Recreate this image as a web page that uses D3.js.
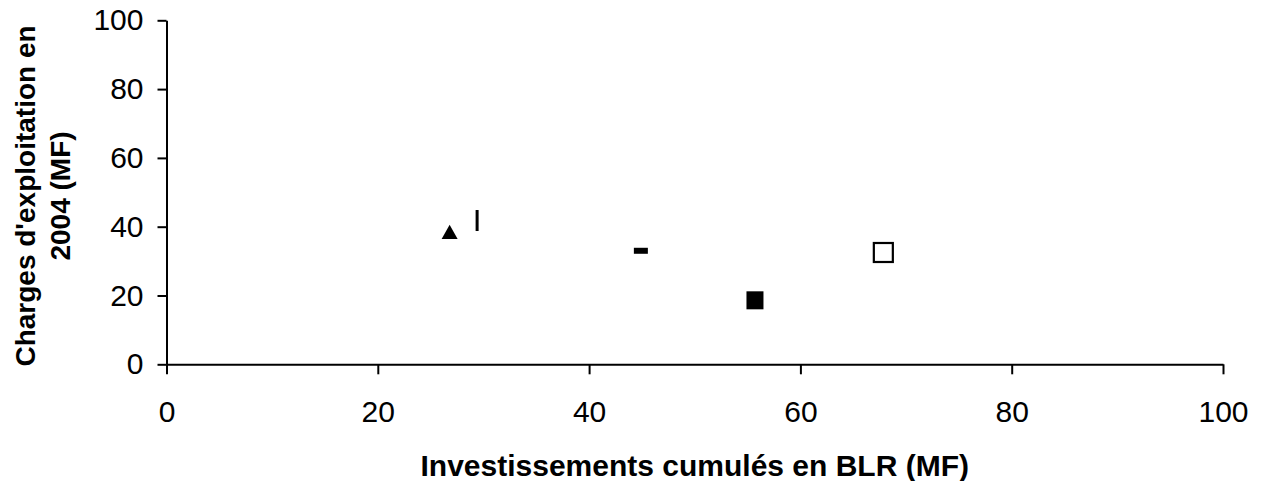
<!DOCTYPE html>
<html>
<head>
<meta charset="utf-8">
<script src="https://cdn.jsdelivr.net/npm/d3@7"></script>
<style>
  body { margin: 0; background: #fff; }
  svg { display: block; }
  .tick text { font-family: "Liberation Sans", Arial, sans-serif; font-size: 30px; fill: #000; }
  .title { font-family: "Liberation Sans", Arial, sans-serif; font-size: 28px; font-weight: bold; fill: #000; }
  .title.x { font-size: 30px; }
</style>
</head>
<body>
<svg id="chart" width="1265" height="481"></svg>
<script>
// one point per series
const seriesNames = ["triangle", "barre", "tiret", "carre plein", "carre vide"]
const xValues = [26.8, 29.4, 44.9, 55.7, 67.85]
const yValues = [38.5, 41.8, 33.0, 18.6, 32.5]
const xTicks = [0, 20, 40, 60, 80, 100]
const yTicks = [0, 20, 40, 60, 80, 100]

const xTitle = "Investissements cumulés en BLR (MF)"
const yTitle = ["Charges d'exploitation en", "2004 (MF)"]

const svg = d3.select("#chart")

const xScale = d3.scaleLinear().domain([0, 100]).range([166.5, 1223])
const yScale = d3.scaleLinear().domain([0, 100]).range([364.3, 20.3])

// axes
const xAxis = d3.axisBottom(xScale).tickValues(xTicks).tickSize(10).tickPadding(26).tickSizeOuter(0)
const yAxis = d3.axisLeft(yScale).tickValues(yTicks).tickSize(9).tickPadding(14).tickSizeOuter(0)

svg.append("g")
    .attr("transform", `translate(0, ${yScale(0)})`)
    .call(xAxis)
    .call(g => g.selectAll("line, path").attr("stroke", "#000").attr("stroke-width", 2))

svg.append("g")
    .attr("transform", `translate(${xScale(0)}, 0)`)
    .call(yAxis)
    .call(g => g.selectAll("line, path").attr("stroke", "#000").attr("stroke-width", 2))

svg.selectAll(".tick text").attr("fill", "#000")

// titles
svg.append("text")
    .attr("class", "title x")
    .attr("x", (xScale(0) + xScale(100)) / 2)
    .attr("y", 476)
    .attr("text-anchor", "middle")
    .text(xTitle)

svg.append("g")
    .attr("transform", "translate(0, 196) rotate(-90)")
    .selectAll("text")
    .data(yTitle)
    .join("text")
    .attr("class", "title")
    .attr("x", 0)
    .attr("y", (d, i) => 35 + i * 35)
    .attr("text-anchor", "middle")
    .text(d => d)

// markers: each series has its own Excel-like marker
const markers = {
    "triangle": g => g.append("path").attr("d", "M0,-7.2L8,7.2L-8,7.2Z").attr("fill", "#000"),
    "barre": g => g.append("rect").attr("x", -1.5).attr("y", -10.5).attr("width", 3).attr("height", 21).attr("fill", "#000"),
    "tiret": g => g.append("rect").attr("x", -7).attr("y", -3).attr("width", 14).attr("height", 6).attr("fill", "#000"),
    "carre plein": g => g.append("rect").attr("x", -8.5).attr("y", -9).attr("width", 17).attr("height", 18).attr("fill", "#000"),
    "carre vide": g => g.append("rect").attr("x", -9.5).attr("y", -9.5).attr("width", 19).attr("height", 19)
        .attr("fill", "#fff").attr("stroke", "#000").attr("stroke-width", 2.2)
}

seriesNames.forEach((name, i) => {
    const g = svg.append("g")
        .attr("transform", `translate(${xScale(xValues[i])}, ${yScale(yValues[i])})`)
    markers[name](g)
})
</script>
</body>
</html>
